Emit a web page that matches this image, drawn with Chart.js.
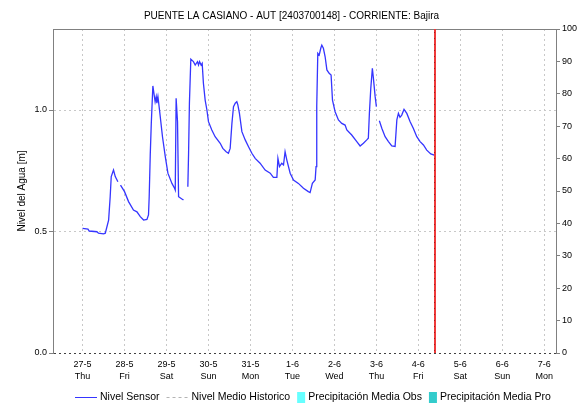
<!DOCTYPE html>
<html>
<head>
<meta charset="utf-8">
<script src="https://cdn.jsdelivr.net/npm/chart.js@4.4.0/dist/chart.umd.min.js"></script>
<style>
	html, body { margin: 0; padding: 0; background: #fff; }
	canvas { display: block; }
</style>
</head>
<body>
<canvas id="chart" width="583" height="404"></canvas>
<script>
const chartTitle = 'PUENTE LA CASIANO - AUT [2403700148] - CORRIENTE: Bajira';
const dayLabels = ['27-5', '28-5', '29-5', '30-5', '31-5', '1-6', '2-6', '3-6', '4-6', '5-6', '6-6', '7-6'];
const weekDays = ['Thu', 'Fri', 'Sat', 'Sun', 'Mon', 'Tue', 'Wed', 'Thu', 'Fri', 'Sat', 'Sun', 'Mon'];

// hours since 27-5 00:00, level in m (null = no data)
const sensorHours = [
	0, 3.1, 3.8, 8.2, 9.1, 12.0, 13.0, 14.9, 15.8, 16.4, 17.7, 18.7, 20.2, 21.0, 21.7,
	24.0, 26.3, 29.1, 31.1, 33.0, 34.9, 36.8, 37.7, 38.1, 38.7, 39.3, 40.2, 41.5, 42.1, 42.5,
	43.1, 44.0, 45.7, 47.3, 48.8, 51.1, 52.6, 53.0, 53.5, 54.3, 54.9, 56.8, 57.7, 59.0,
	60.2, 60.6, 61.1, 61.9, 63.4, 64.4, 65.7, 66.3, 66.9, 67.8, 68.4, 69.1, 70.1, 71.1,
	72.0, 73.9, 75.8, 78.7, 80.2, 82.1, 83.4, 84.4, 85.4, 86.3, 87.3, 88.2, 88.8, 89.7,
	91.1, 93.0, 94.9, 96.8, 98.7, 101.5, 104.4, 107.3, 109.1, 111.1, 111.7, 112.6, 113.9,
	114.9, 115.8, 116.8, 118.7, 120.6, 123.4, 126.3, 129.1, 130.1, 131.4, 133.0, 133.5,
	133.9, 134.5, 135.3, 136.2, 136.8, 137.7, 138.7, 139.7, 141.0, 142.1, 142.9, 144.4,
	146.3, 148.2, 150.1, 151.1, 153.9, 156.8, 158.7, 160.6, 162.5, 163.4, 164.0, 164.8,
	165.7, 166.3, 167.3, 168.0, 168.8, 169.7, 171.1, 173.0, 174.9, 176.8, 178.7, 179.7,
	180.6, 181.5, 182.5, 183.8, 185.4, 187.3, 189.1, 191.1, 193.0, 194.9, 196.8, 199.1, 201.5
];
const sensorLevel = [
	0.513, 0.510, 0.502, 0.499, 0.493, 0.490, 0.493, 0.547, 0.643, 0.726, 0.753, 0.726, 0.705, null, 0.691,
	0.664, 0.623, 0.588, 0.581, 0.561, 0.547, 0.550, 0.568, 0.643, 0.815, 0.945, 1.099, 1.034, 1.055, 1.028,
	1.055, 1.000, 0.890, 0.808, 0.740, 0.698, 0.678, 0.671, 1.048, 0.952, 0.643, 0.634, 0.630, null,
	0.684, 0.815, 1.028, 1.209, 1.199, 1.185, 1.199, 1.185, 1.199, 1.185, 1.192, 1.110, 1.041, 1.000,
	0.952, 0.918, 0.890, 0.863, 0.842, 0.828, 0.822, 0.842, 0.945, 1.014, 1.028, 1.034, 1.021, 0.986,
	0.911, 0.877, 0.849, 0.822, 0.801, 0.781, 0.753, 0.740, 0.723, 0.723, 0.801, 0.767, 0.781,
	0.774, 0.828, 0.794, 0.740, 0.712, 0.698, 0.678, 0.664, 0.660, 0.698, 0.712, 0.767,
	1.014, 1.233, 1.226, 1.254, 1.267, 1.254, 1.219, 1.165, 1.151, 1.144, 1.041, 0.993,
	0.959, 0.945, 0.938, 0.918, 0.897, 0.870, 0.852, 0.863, 0.877, 0.884, 0.986, 1.089,
	1.172, 1.130, 1.055, 1.014, null, 0.956, 0.925, 0.890, 0.870, 0.852, 0.850, 0.959,
	0.986, 0.970, 0.979, 1.003, 0.986, 0.952, 0.925, 0.890, 0.870, 0.856, 0.835, 0.819, 0.813
];
const historicLevel = [];
const rainObs = [];
const rainPro = [];
const nowHour = 201.6;

const xMin = -16.9;
const xMax = 270.7;

const FONT = 'Arial, "Liberation Sans", sans-serif';

const extras = {
	id: 'extras',
	afterDraw(chart) {
		const { ctx, chartArea: { left, right, top, bottom }, scales: { x } } = chart;
		ctx.save();

		// top frame
		ctx.strokeStyle = '#808080';
		ctx.lineWidth = 1;
		ctx.beginPath();
		ctx.moveTo(left, top + 0.5);
		ctx.lineTo(right, top + 0.5);
		ctx.stroke();

		// current time marker
		const nx = Math.round(x.getPixelForValue(nowHour));
		ctx.fillStyle = '#ee3b3b';
		ctx.fillRect(nx - 1, top, 2, bottom - top);
		ctx.fillStyle = '#a81c1c';
		for (let yy = top + 3; yy < bottom; yy += 6) {
			ctx.fillRect(nx - 1, yy, 1, 1);
		}

		// title
		ctx.fillStyle = '#000';
		ctx.font = '10px ' + FONT;
		ctx.textAlign = 'center';
		ctx.textBaseline = 'middle';
		ctx.fillText(chartTitle, chart.width / 2, 16);

		// legend
		ctx.font = '10.5px ' + FONT;
		ctx.textAlign = 'left';
		const items = chart.data.datasets.map(ds => ({
			text: ds.label,
			line: ds.type === 'line',
			color: ds.type === 'line' ? ds.borderColor : ds.backgroundColor,
			dash: ds.borderDash || []
		}));
		const symW = it => it.line ? 22 : 8;
		let total = 0;
		items.forEach((it, i) => {
			total += symW(it) + 3 + ctx.measureText(it.text).width + (i < items.length - 1 ? 7 : 0);
		});
		let cx = Math.round(313 - total / 2);
		const ly = 397;
		items.forEach(it => {
			if (it.line) {
				ctx.strokeStyle = it.color;
				ctx.setLineDash(it.dash);
				ctx.beginPath();
				ctx.moveTo(cx, ly + 0.5);
				ctx.lineTo(cx + 22, ly + 0.5);
				ctx.stroke();
				ctx.setLineDash([]);
			} else {
				ctx.fillStyle = it.color;
				ctx.fillRect(cx, ly - 5, 8, 11);
			}
			cx += symW(it) + 3;
			ctx.fillStyle = '#000';
			ctx.fillText(it.text, cx, ly);
			cx += ctx.measureText(it.text).width + 7;
		});

		ctx.restore();
	}
};

new Chart(document.getElementById('chart'), {
	data: {
		datasets: [
			{
				type: 'line',
				label: 'Nivel Sensor',
				data: sensorHours.map((h, i) => ({ x: h, y: sensorLevel[i] })),
				borderColor: '#3535ff',
				borderWidth: 1.3,
				pointRadius: 0,
				spanGaps: false,
				tension: 0
			},
			{
				type: 'line',
				label: 'Nivel Medio Historico',
				data: historicLevel,
				borderColor: '#b4b4b4',
				borderDash: [3, 3],
				borderWidth: 1,
				pointRadius: 0
			},
			{
				type: 'bar',
				label: 'Precipitación Media Obs',
				data: rainObs,
				backgroundColor: '#66ffff',
				yAxisID: 'y1'
			},
			{
				type: 'bar',
				label: 'Precipitación Media Pro',
				data: rainPro,
				backgroundColor: '#33cccc',
				yAxisID: 'y1'
			}
		]
	},
	options: {
		responsive: false,
		animation: false,
		layout: { padding: { top: 29, left: 0, right: 0, bottom: 0 } },
		plugins: {
			legend: { display: false },
			title: { display: false },
			tooltip: { enabled: false }
		},
		scales: {
			x: {
				type: 'linear',
				min: xMin,
				max: xMax,
				offset: false,
				afterFit: s => { s.height = 51; },
				afterBuildTicks: s => { s.ticks = dayLabels.map((d, i) => ({ value: i * 24 })); },
				ticks: {
					autoSkip: false,
					maxRotation: 0,
					padding: 5,
					color: '#000',
					font: { size: 9, family: FONT, lineHeight: 1.4 },
					callback: (v, i) => [dayLabels[i], weekDays[i]]
				},
				grid: { color: '#c8c8c8', drawTicks: false, offset: false },
				border: { display: false, dash: [2, 3] }
			},
			y: {
				position: 'left',
				min: 0,
				max: 4 / 3,
				afterFit: s => { s.width = 53; },
				ticks: {
					stepSize: 0.5,
					includeBounds: false,
					padding: 2,
					color: '#000',
					font: { size: 9, family: FONT },
					callback: v => v.toFixed(1)
				},
				grid: {
					color: c => (c.tick && c.tick.value === 0) ? '#404040' : '#c8c8c8',
					tickColor: '#808080',
					tickLength: 4
				},
				border: { display: true, color: '#808080', dash: [2, 3] },
				title: {
					display: true,
					text: 'Nivel del Agua [m]',
					color: '#000',
					font: { size: 10, family: FONT },
					padding: { top: 16, bottom: 0 }
				}
			},
			y1: {
				position: 'right',
				min: 0,
				max: 100,
				afterFit: s => { s.width = 27; },
				ticks: {
					stepSize: 10,
					padding: 2,
					color: '#000',
					font: { size: 9, family: FONT }
				},
				grid: { drawOnChartArea: false, tickColor: '#808080', tickLength: 4 },
				border: { display: true, color: '#808080' }
			}
		}
	},
	plugins: [extras]
});
</script>
</body>
</html>
